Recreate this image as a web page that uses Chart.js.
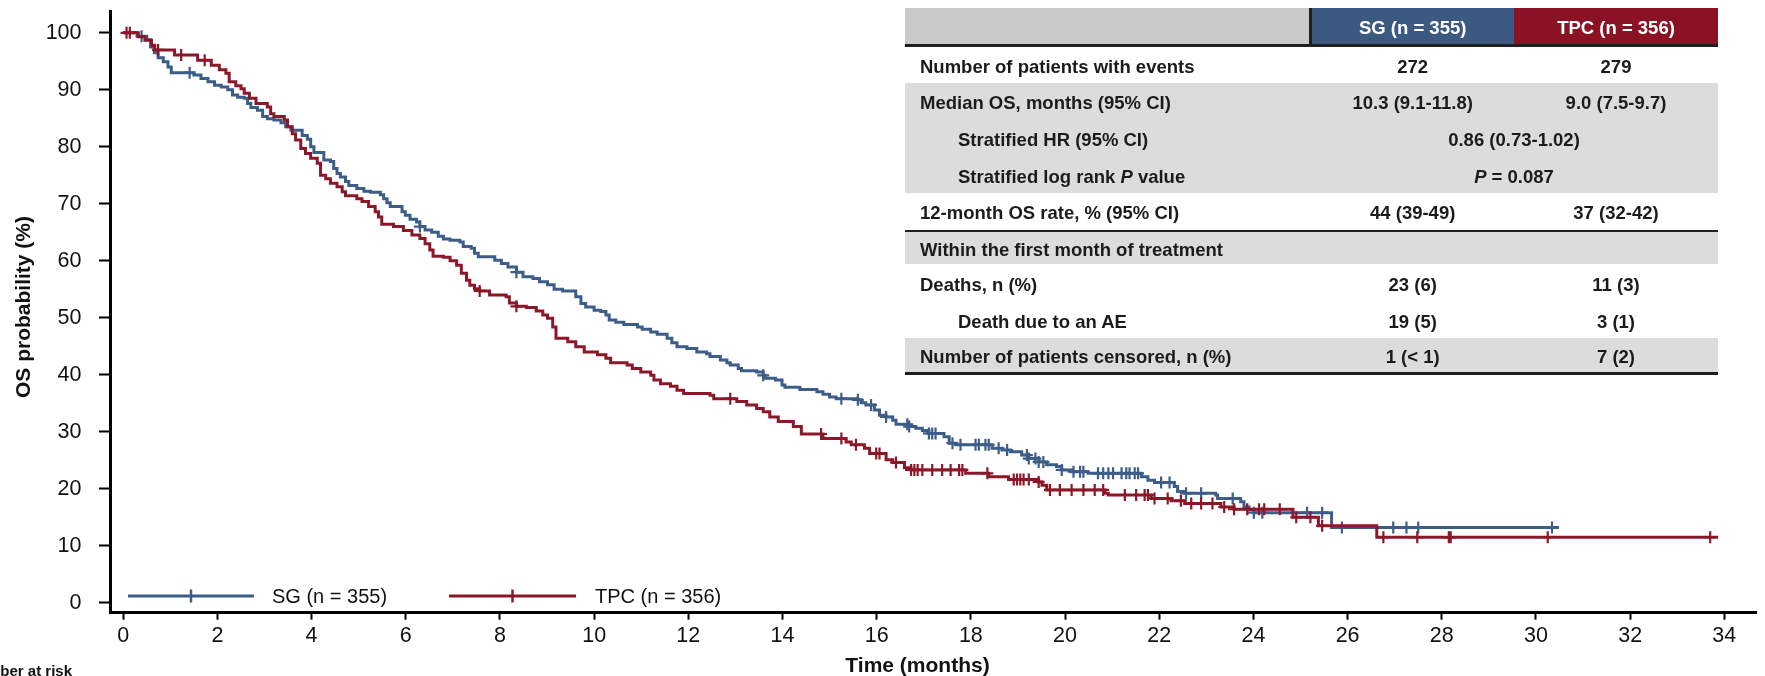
<!DOCTYPE html>
<html lang="en">
<head>
<meta charset="UTF-8" />
<title>Overall survival: SG vs TPC</title>
<script src="https://cdn.jsdelivr.net/npm/chart.js@4"></script>
<style>
  html, body { margin: 0; padding: 0; background: #fff; }
  #wrap { position: relative; width: 1765px; height: 676px; overflow: hidden; font-family: "Liberation Sans", Arial, sans-serif; }
  #chart { position: absolute; left: 0; top: 0; }
  #stats { position: absolute; left: 0; top: 0; width: 1765px; height: 676px; pointer-events: none;
           font-weight: bold; font-size: 18.5px; color: #1b1b1b; }
  #stats div { position: absolute; }
  #stats span { position: absolute; white-space: nowrap; }
  .mid { transform: translateX(-50%); }
</style>
</head>
<body>
<div id="wrap">
  <canvas id="chart" width="1765" height="676"></canvas>
  <div id="stats"></div>
</div>

<script>
  // axis ticks
  const xTicks = [0, 2, 4, 6, 8, 10, 12, 14, 16, 18, 20, 22, 24, 26, 28, 30, 32, 34];
  const yTicks = [0, 10, 20, 30, 40, 50, 60, 70, 80, 90, 100];

  const seriesLabels = ['SG (n = 355)', 'TPC (n = 356)'];

  // KM steps: [month, OS %] after each drop
  const sgSteps = [
    [0, 100], [0.30, 99.4], [0.50, 98.8], [0.58, 97.5], [0.66, 96.5], [0.74, 95.6], [0.85, 94.9],
    [0.95, 94.0], [1.02, 93.0], [1.50, 92.6], [1.65, 92.0], [1.80, 91.4], [1.94, 90.8], [2.08, 90.5],
    [2.22, 90.0], [2.32, 89.1], [2.43, 88.7], [2.57, 88.5], [2.64, 87.6], [2.71, 86.9], [2.85, 86.4],
    [2.96, 85.3], [3.06, 84.9], [3.20, 84.7], [3.35, 84.2], [3.45, 83.5], [3.56, 82.9], [3.80, 82.0],
    [3.91, 81.3], [3.98, 80.0], [4.05, 79.0], [4.26, 77.7], [4.40, 77.4], [4.47, 76.2], [4.54, 75.3],
    [4.61, 74.7], [4.72, 73.9], [4.79, 73.2], [4.96, 72.7], [5.11, 72.2], [5.25, 72.0], [5.46, 71.6],
    [5.53, 70.9], [5.60, 70.2], [5.67, 69.5], [5.92, 68.6], [5.99, 68.0], [6.09, 67.3], [6.23, 66.8],
    [6.30, 66.0], [6.41, 65.4], [6.55, 65.0], [6.69, 64.3], [6.80, 63.8], [6.94, 63.6], [7.15, 63.3],
    [7.22, 62.5], [7.39, 62.2], [7.46, 61.3], [7.54, 60.7], [7.89, 60.1], [8.03, 59.5], [8.17, 58.9],
    [8.35, 58.0], [8.49, 57.2], [8.70, 56.9], [8.84, 56.3], [9.01, 55.8], [9.15, 55.0], [9.33, 54.7],
    [9.61, 53.7], [9.72, 52.5], [9.82, 51.9], [10.00, 51.3], [10.14, 51.1], [10.25, 50.5], [10.32, 49.6],
    [10.46, 49.2], [10.63, 48.8], [10.92, 48.4], [11.02, 48.0], [11.20, 47.5], [11.34, 47.1], [11.55, 46.4],
    [11.65, 45.6], [11.76, 44.9], [11.97, 44.6], [12.18, 44.0], [12.39, 43.7], [12.46, 43.2], [12.68, 42.6],
    [12.82, 42.1], [12.89, 41.7], [13.06, 41.1], [13.13, 40.7], [13.45, 40.5], [13.59, 39.9], [13.63, 39.4],
    [13.85, 39.1], [13.99, 38.2], [14.05, 37.8], [14.37, 37.4], [14.73, 37.0], [14.86, 36.6], [15.00, 36.1],
    [15.14, 35.8], [15.60, 35.6], [15.67, 35.1], [15.77, 34.7], [15.95, 33.8], [16.06, 32.9], [16.20, 32.6],
    [16.34, 32.0], [16.41, 31.3], [16.69, 30.9], [16.83, 30.6], [16.97, 30.2], [17.11, 29.7], [17.43, 29.1],
    [17.54, 28.0], [17.68, 27.7], [18.45, 27.1], [18.66, 26.8], [18.84, 26.5], [19.08, 25.9], [19.23, 25.3],
    [19.44, 24.7], [19.61, 24.2], [19.82, 23.9], [19.93, 23.3], [20.14, 23.0], [20.49, 22.7], [21.62, 22.1],
    [21.76, 21.5], [21.90, 21.1], [22.32, 20.4], [22.39, 19.5], [22.54, 19.2], [23.20, 18.9], [23.24, 18.3],
    [23.73, 17.7], [23.80, 16.8], [23.91, 16.3], [24.01, 15.8], [25.66, 13.2], [30.49, 13.2]
  ];

  const tpcSteps = [
    [0, 100], [0.32, 99.3], [0.46, 98.7], [0.60, 97.8], [0.67, 97.0], [1.09, 96.1], [1.58, 95.2],
    [1.87, 94.3], [2.04, 93.5], [2.18, 92.9], [2.25, 91.4], [2.39, 90.7], [2.50, 90.2], [2.57, 89.4],
    [2.68, 88.5], [2.82, 87.6], [3.06, 87.0], [3.13, 85.8], [3.20, 85.3], [3.42, 84.7], [3.49, 83.5],
    [3.59, 82.3], [3.66, 81.2], [3.77, 79.7], [3.87, 78.8], [3.98, 78.0], [4.12, 77.1], [4.19, 75.0],
    [4.30, 74.4], [4.40, 73.6], [4.54, 73.0], [4.65, 72.1], [4.72, 71.4], [4.96, 70.9], [5.07, 70.4],
    [5.21, 69.5], [5.35, 68.6], [5.42, 67.7], [5.49, 66.4], [5.74, 66.0], [5.95, 65.3], [6.13, 64.5],
    [6.30, 63.9], [6.41, 63.0], [6.51, 61.9], [6.58, 60.8], [6.80, 60.6], [6.94, 60.0], [7.08, 59.2],
    [7.18, 57.8], [7.29, 56.6], [7.36, 55.7], [7.46, 55.1], [7.57, 54.7], [7.78, 54.0], [8.13, 53.7],
    [8.20, 52.6], [8.35, 52.0], [8.56, 51.8], [8.77, 51.2], [8.91, 50.5], [9.01, 49.9], [9.12, 48.4],
    [9.19, 46.4], [9.44, 45.8], [9.61, 44.9], [9.79, 44.0], [10.07, 43.5], [10.25, 42.9], [10.35, 42.1],
    [10.70, 41.7], [10.81, 41.1], [10.99, 40.5], [11.20, 39.9], [11.27, 39.1], [11.41, 38.4], [11.62, 38.0],
    [11.76, 37.3], [11.90, 36.7], [12.46, 36.4], [12.54, 35.8], [13.03, 35.3], [13.24, 34.7], [13.45, 34.1],
    [13.59, 33.5], [13.73, 32.6], [13.91, 31.8], [14.23, 30.9], [14.40, 29.6], [14.86, 28.8], [15.35, 28.2],
    [15.46, 27.7], [15.74, 27.1], [15.85, 26.2], [16.20, 25.1], [16.34, 24.6], [16.59, 23.7], [16.73, 23.3],
    [17.89, 22.7], [18.38, 22.1], [18.80, 21.6], [19.44, 21.2], [19.51, 20.6], [19.61, 19.8], [20.85, 19.2],
    [20.92, 18.9], [21.83, 18.3], [22.25, 17.9], [22.54, 17.4], [23.31, 16.8], [23.59, 16.4], [24.84, 15.0],
    [25.38, 13.5], [26.62, 11.5], [33.87, 11.5]
  ];

  // censoring times (months)
  const sgCensor = [0.39, 1.41, 6.30, 8.35, 13.59, 15.25, 15.60, 15.88, 16.20, 16.65, 16.69, 17.11, 17.18,
    17.25, 17.61, 17.78, 18.10, 18.17, 18.31, 18.38, 18.59, 18.77, 19.19, 19.23, 19.37, 19.44, 19.54,
    19.93, 20.18, 20.32, 20.39, 20.70, 20.81, 20.92, 21.02, 21.20, 21.30, 21.37, 21.48, 21.55, 22.04,
    22.22, 22.57, 22.89, 23.56, 24.01, 24.19, 25.14, 25.46, 25.88, 26.97, 27.25, 27.50, 30.34];
  const tpcCensor = [0.07, 0.14, 0.74, 1.23, 1.73, 7.57, 8.35, 12.89, 14.82, 15.25, 15.56, 15.99, 16.06,
    16.41, 16.73, 16.80, 16.87, 16.97, 17.18, 17.39, 17.57, 17.75, 17.82, 18.35, 18.91, 18.98, 19.05,
    19.12, 19.23, 19.44, 19.68, 19.89, 20.14, 20.39, 20.63, 20.81, 21.27, 21.51, 21.69, 21.76, 21.90,
    22.18, 22.46, 22.68, 22.89, 23.13, 23.38, 23.59, 23.87, 24.12, 24.23, 24.56, 24.91, 25.21, 25.46,
    26.76, 27.48, 28.15, 28.19, 30.25, 33.70];

  // table
  const tableHead = ['SG (n = 355)', 'TPC (n = 356)'];
  const tableRows = [
    ['Number of patients with events', '272', '279'],
    ['Median OS, months (95% CI)', '10.3 (9.1-11.8)', '9.0 (7.5-9.7)'],
    ['Stratified HR (95% CI)', '0.86 (0.73-1.02)'],
    ['Stratified log rank <i>P</i> value', '<i>P</i> = 0.087'],
    ['12-month OS rate, % (95% CI)', '44 (39-49)', '37 (32-42)'],
    ['Within the first month of treatment'],
    ['Deaths, n (%)', '23 (6)', '11 (3)'],
    ['Death due to an AE', '19 (5)', '3 (1)'],
    ['Number of patients censored, n (%)', '1 (&lt; 1)', '7 (2)']
  ];

  const BLUE = '#3d5d89';
  const RED = '#8c1729';
  const FONT = "'Liberation Sans', Arial, sans-serif";

  // ---- table layout (page px) ----
  const rowBox = [ // top, height, shaded, indented
    [46.8, 36.2, 0, 0], [83, 36.8, 1, 0], [119.8, 36.8, 1, 1], [156.6, 36.7, 1, 1], [193.3, 36.7, 0, 0],
    [232.3, 32, 1, 0], [264.3, 37, 0, 0], [301.3, 37, 0, 1], [338.3, 33.4, 1, 0]
  ];
  const rules = [[44.3, 2.5], [230, 2.3], [371.7, 3]];
  const T = { left: 905, right: 1718, split: 1311.5, mid: 1514, sg: 1412.7, tpc: 1616, lab: 920, ind: 958 };

  function box(parent, l, t, w, h, bg) {
    const d = document.createElement('div');
    d.style.cssText = `left:${l}px;top:${t}px;width:${w}px;height:${h}px;background:${bg};`;
    parent.appendChild(d);
    return d;
  }
  function text(parent, html, x, top, h, center, color) {
    const s = document.createElement('span');
    s.innerHTML = html;
    s.style.left = x + 'px';
    s.style.top = (top + 2) + 'px';
    s.style.lineHeight = h + 'px';
    if (color) s.style.color = color;
    if (center) s.className = 'mid';
    parent.appendChild(s);
  }

  const stats = document.getElementById('stats');
  // header
  box(stats, T.left, 8, T.split - T.left, 36.3, '#c8cac7');
  box(stats, T.split - 2.5, 8, 2.5, 36.3, '#1f1f1f');
  box(stats, T.split, 8, T.mid - T.split, 36.3, '#3c5a81');
  box(stats, T.mid, 8, T.right - T.mid, 36.3, '#8b1224');
  text(stats, tableHead[0], T.sg, 8, 36.3, true, '#fff');
  text(stats, tableHead[1], T.tpc, 8, 36.3, true, '#fff');

  tableRows.forEach((r, i) => {
    const [top, h, shade, indent] = rowBox[i];
    if (shade) box(stats, T.left, top, T.right - T.left, h, '#dcdddb');
    text(stats, r[0], indent ? T.ind : T.lab, top, h, false);
    if (r.length === 3) {
      text(stats, r[1], T.sg, top, h, true);
      text(stats, r[2], T.tpc, top, h, true);
    } else if (r.length === 2) {
      text(stats, r[1], T.mid, top, h, true);
    }
  });
  rules.forEach(([t, h]) => box(stats, T.left, t, T.right - T.left, h, '#1f1f1f'));

  // ---- chart ----
  function survAt(steps, t) {
    let v = steps[0][1];
    for (const [x, y] of steps) { if (x <= t) v = y; else break; }
    return v;
  }
  const toPts = steps => steps.map(([x, y]) => ({ x, y }));
  const censorPts = (steps, times) => times.map(t => ({ x: t, y: survAt(steps, t) }));

  const decor = {
    id: 'decor',
    afterDraw(chart) {
      const ctx = chart.ctx;
      ctx.save();
      // legend inside the plot
      const items = [
        { x1: 128, x2: 254, tx: 272, color: BLUE, label: seriesLabels[0] },
        { x1: 449, x2: 576, tx: 595, color: RED, label: seriesLabels[1] }
      ];
      const ly = 596;
      items.forEach(it => {
        ctx.strokeStyle = it.color;
        ctx.lineWidth = 3;
        ctx.beginPath(); ctx.moveTo(it.x1, ly); ctx.lineTo(it.x2, ly); ctx.stroke();
        const cx = (it.x1 + it.x2) / 2;
        ctx.lineWidth = 2.5;
        ctx.beginPath(); ctx.moveTo(cx, ly - 6.5); ctx.lineTo(cx, ly + 6.5); ctx.stroke();
        ctx.fillStyle = '#111';
        ctx.font = `20px ${FONT}`;
        ctx.textBaseline = 'middle';
        ctx.textAlign = 'left';
        ctx.fillText(it.label, it.tx, ly + 1);
      });
      // axis titles
      ctx.fillStyle = '#111';
      ctx.font = `bold 21px ${FONT}`;
      ctx.textAlign = 'center';
      ctx.fillText('Time (months)', 917.5, 666.5);
      ctx.save();
      ctx.translate(24.5, 307);
      ctx.rotate(-Math.PI / 2);
      ctx.fillText('OS probability (%)', 0, 0);
      ctx.restore();
      // clipped risk-table heading
      ctx.font = `bold 15px ${FONT}`;
      ctx.textAlign = 'right';
      ctx.fillText('Number at risk', 72, 672);
      ctx.restore();
    }
  };

  Chart.defaults.font.family = FONT;

  new Chart(document.getElementById('chart'), {
    type: 'line',
    data: {
      datasets: [
        { label: seriesLabels[1] + ' censored', data: censorPts(tpcSteps, tpcCensor), showLine: false,
          pointStyle: 'cross', pointRadius: 6, pointBorderWidth: 2.2, pointBorderColor: RED, pointBackgroundColor: RED },
        { label: seriesLabels[1], data: toPts(tpcSteps), stepped: 'before', borderColor: RED, borderWidth: 3,
          pointRadius: 0, fill: false },
        { label: seriesLabels[0] + ' censored', data: censorPts(sgSteps, sgCensor), showLine: false,
          pointStyle: 'cross', pointRadius: 6, pointBorderWidth: 2.2, pointBorderColor: BLUE, pointBackgroundColor: BLUE },
        { label: seriesLabels[0], data: toPts(sgSteps), stepped: 'before', borderColor: BLUE, borderWidth: 3,
          pointRadius: 0, fill: false }
      ]
    },
    options: {
      responsive: false,
      animation: false,
      events: [],
      layout: { padding: { top: 11.7, left: 0, right: 0, bottom: 0 } },
      plugins: { legend: { display: false }, tooltip: { enabled: false } },
      scales: {
        x: {
          type: 'linear', min: -0.281, max: 34.69,
          afterBuildTicks: s => { s.ticks = xTicks.map(v => ({ value: v })); },
          afterFit: s => { s.height = 63.3; s.paddingLeft = 0; s.paddingRight = 0; },
          grid: { drawOnChartArea: false, drawTicks: true, tickLength: 7, tickWidth: 2, tickColor: '#000' },
          border: { display: true, color: '#000', width: 3 },
          ticks: { padding: 3, color: '#111', font: { size: 21.5 }, maxRotation: 0, autoSkip: false }
        },
        y: {
          type: 'linear', min: -1.75, max: 103.7,
          afterBuildTicks: s => { s.ticks = yTicks.map(v => ({ value: v })); },
          afterFit: s => { s.width = 110; s.paddingTop = 0; s.paddingBottom = 0; },
          grid: { drawOnChartArea: false, drawTicks: true, tickLength: 11, tickWidth: 2, tickColor: '#000' },
          border: { display: true, color: '#000', width: 3 },
          ticks: { padding: 17.5, color: '#111', font: { size: 21.5 } }
        }
      }
    },
    plugins: [decor]
  });
</script>
</body>
</html>
